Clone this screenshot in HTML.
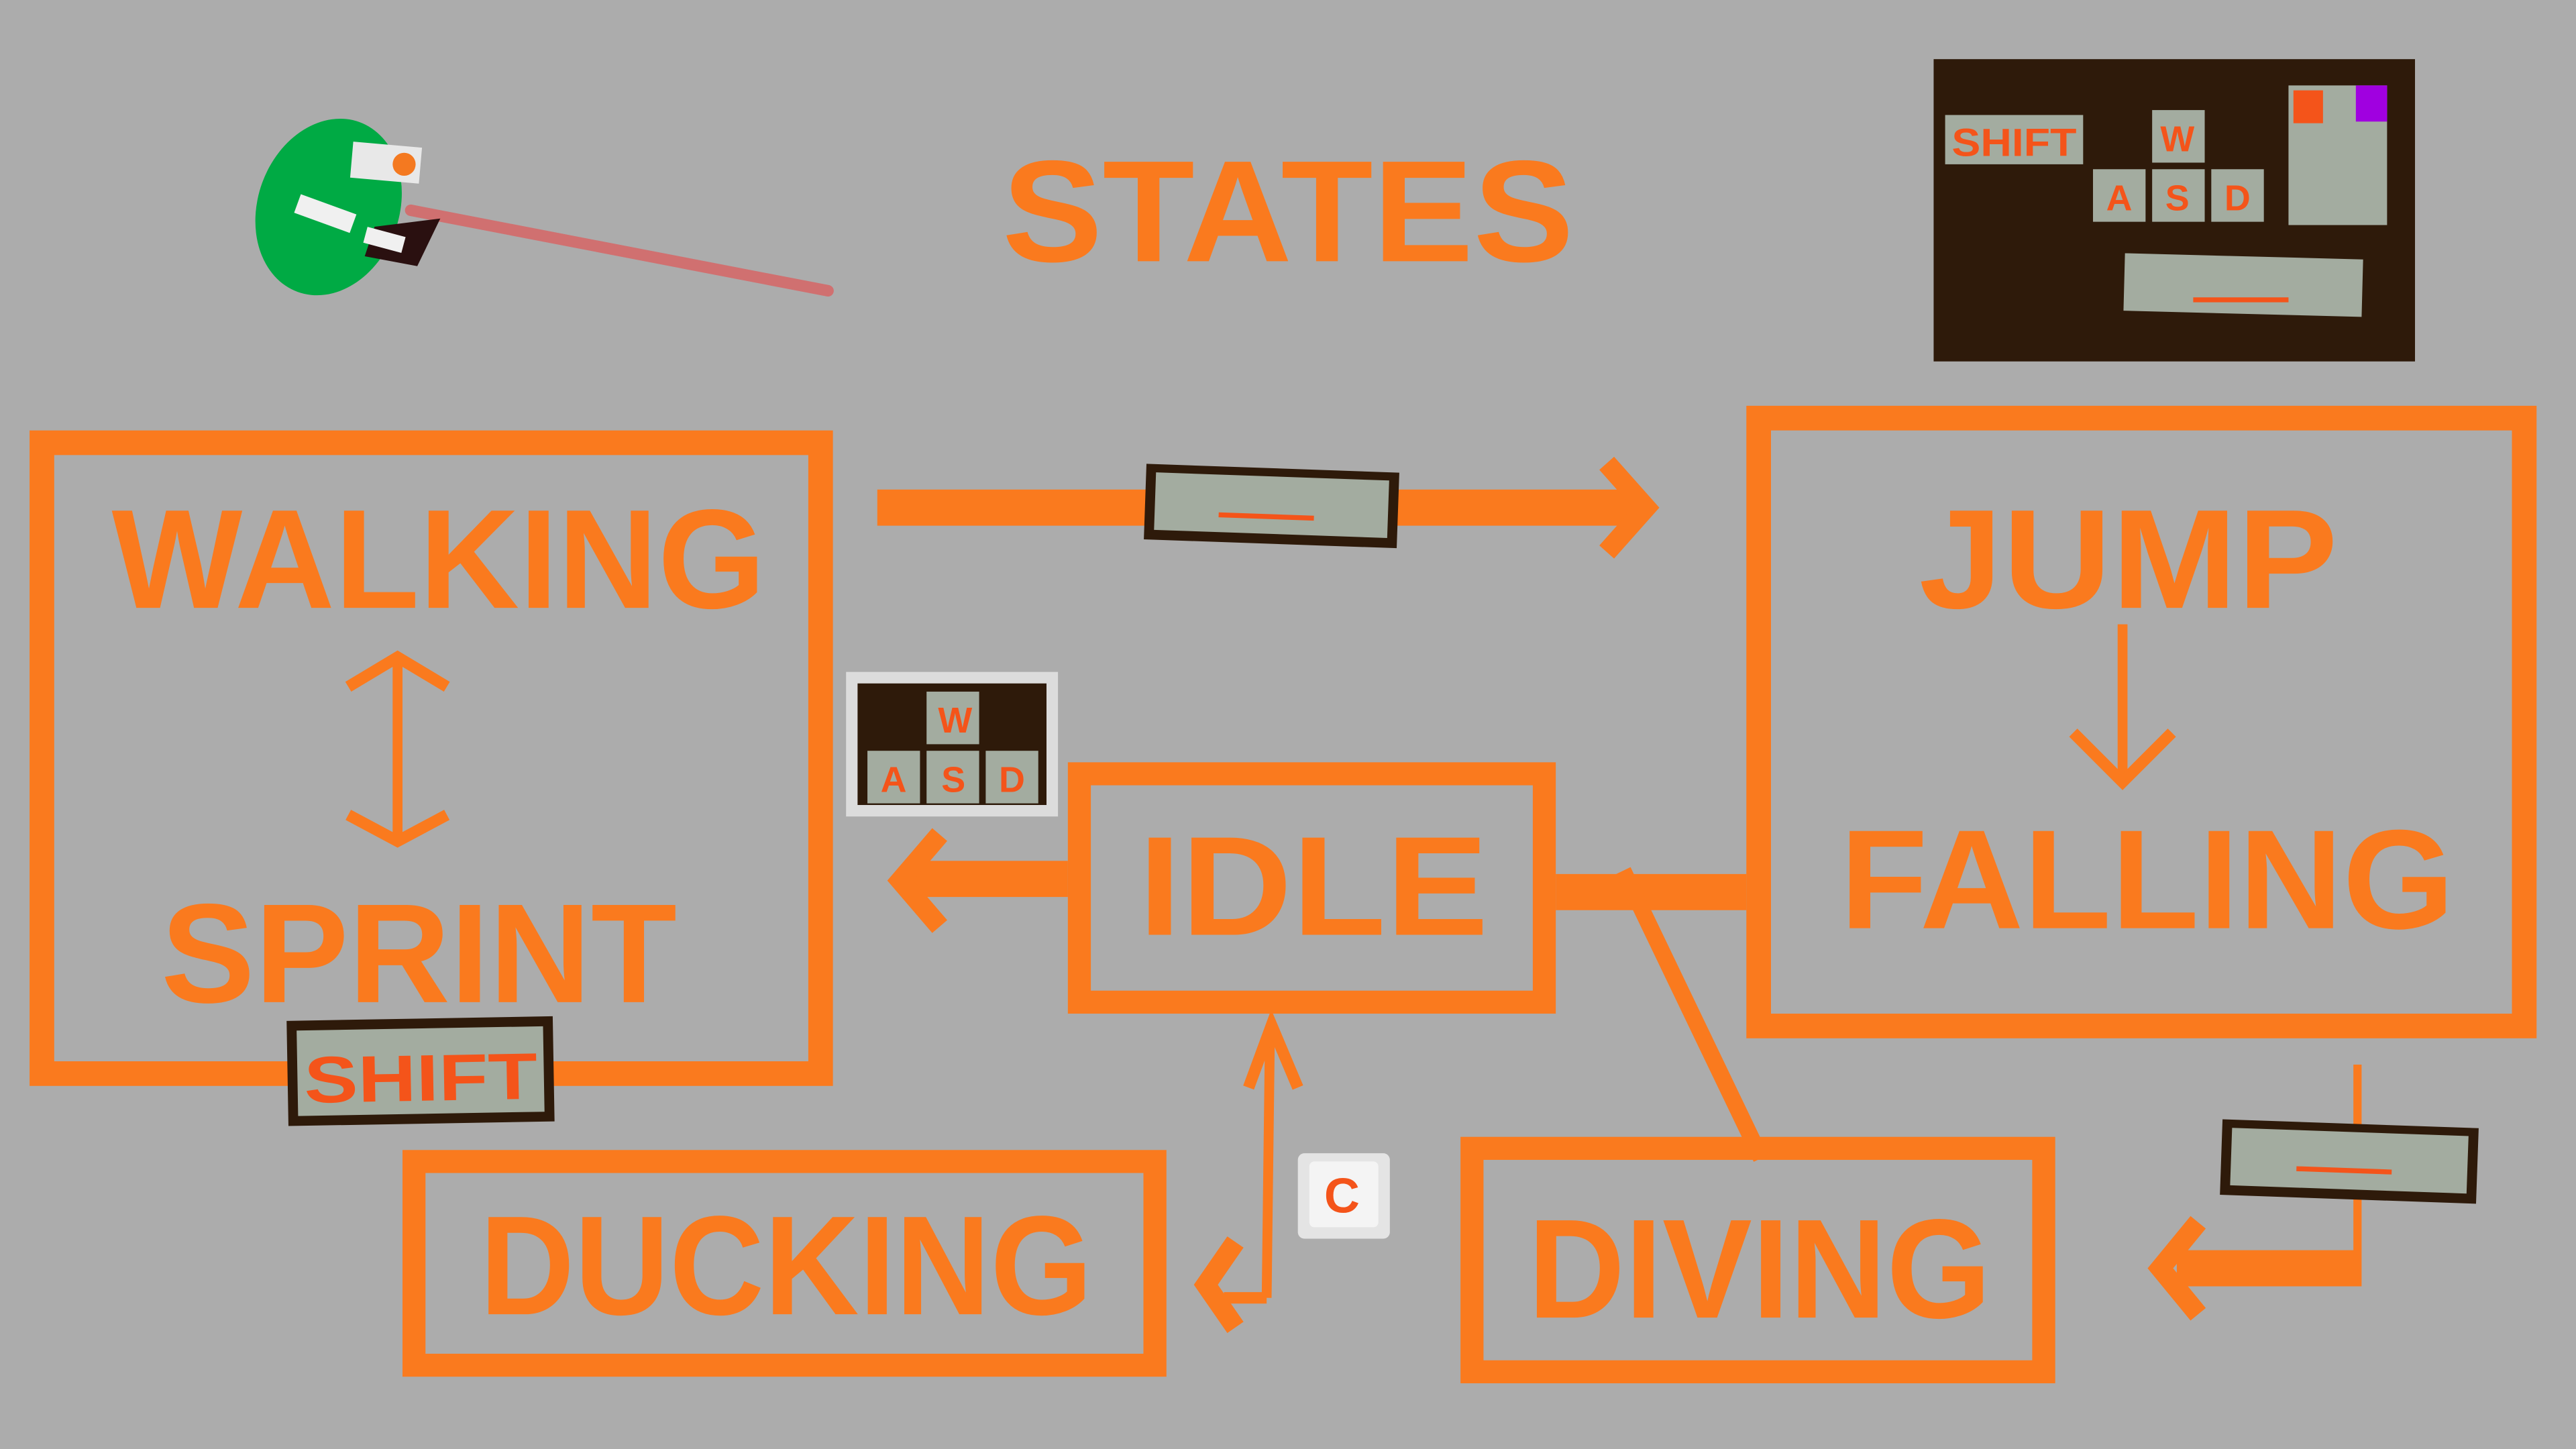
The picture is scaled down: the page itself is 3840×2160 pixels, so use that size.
<!DOCTYPE html>
<html><head><meta charset="utf-8"><style>
html,body{margin:0;padding:0;background:#acacac;}
svg{display:block}
text{font-family:"Liberation Sans",sans-serif;font-weight:bold;fill:#fa7a1e}
</style></head><body>
<svg width="3840" height="2160" viewBox="0 0 1568 882" xmlns="http://www.w3.org/2000/svg">
<rect width="1568" height="882" fill="#acacac"/>
<g fill="none" stroke="#fa7a1e" stroke-linejoin="miter">
<!-- boxes -->
<rect x="25.5" y="269.5" width="474" height="384" stroke-width="15"/>
<rect x="1070.5" y="254.5" width="466" height="370" stroke-width="15"/>
<rect x="657" y="471" width="283" height="139" stroke-width="14"/>
<rect x="252" y="707" width="451" height="124" stroke-width="14"/>
<rect x="896" y="699" width="348" height="136" stroke-width="14"/>
<!-- walking/sprint double arrow -->
<line x1="242" y1="402" x2="242" y2="510" stroke-width="6"/>
<polyline points="212,418 242,400 272,418" stroke-width="7"/>
<polyline points="212,496 242,512 272,496" stroke-width="7"/>
<!-- jump->falling -->
<line x1="1292" y1="380" x2="1292" y2="474" stroke-width="6"/>
<polyline points="1262,446 1292,476 1322,446" stroke-width="7"/>
<!-- top arrow -->
<line x1="534" y1="309" x2="1000" y2="309" stroke-width="22"/>
<polyline points="978,282 1002,309 978,336" stroke-width="12"/>
<!-- idle left arrow -->
<line x1="650" y1="535" x2="552" y2="535" stroke-width="22"/>
<polyline points="572,508 548,536 572,564" stroke-width="12"/>
<!-- idle to jump -->
<line x1="947" y1="543" x2="1063" y2="543" stroke-width="22"/>
<line x1="988" y1="530" x2="1072" y2="705" stroke-width="10"/>
<!-- idle <-> ducking -->
<line x1="773" y1="628" x2="771" y2="790" stroke-width="6"/>
<polyline points="760,662 774,624 790,662" stroke-width="7"/>
<polyline points="771,790 745,790" stroke-width="7"/>
<polyline points="752,756 734,782 752,808" stroke-width="12"/>
<!-- right bottom arrow -->
<line x1="1435" y1="648" x2="1435" y2="783" stroke-width="5"/>
<line x1="1435" y1="772" x2="1325" y2="772" stroke-width="22"/>
<polyline points="1338,744 1315,772 1338,800" stroke-width="12"/>
</g>
<!-- texts -->
<text x="610" y="159" font-size="88" textLength="348" lengthAdjust="spacingAndGlyphs">STATES</text>
<text x="68" y="370" font-size="86" textLength="398" lengthAdjust="spacingAndGlyphs">WALKING</text>
<text x="98" y="610" font-size="86" textLength="314" lengthAdjust="spacingAndGlyphs">SPRINT</text>
<text x="1168" y="370" font-size="86" textLength="255" lengthAdjust="spacingAndGlyphs">JUMP</text>
<text x="1120" y="565" font-size="86" textLength="374" lengthAdjust="spacingAndGlyphs">FALLING</text>
<text x="693" y="569" font-size="86" textLength="213" lengthAdjust="spacingAndGlyphs">IDLE</text>
<text x="292" y="800" font-size="86" textLength="373" lengthAdjust="spacingAndGlyphs">DUCKING</text>
<text x="930" y="802" font-size="86" textLength="282" lengthAdjust="spacingAndGlyphs">DIVING</text>
<!-- SHIFT badge -->
<g transform="rotate(-1 256 652)">
<rect x="175" y="620" width="162" height="64" fill="#2e1a0a"/>
<rect x="181" y="626" width="150" height="52" fill="#a3aca0"/>
<text x="185" y="670" font-size="40" textLength="142" lengthAdjust="spacingAndGlyphs" style="fill:#f4541a">SHIFT</text>
</g>
<!-- top key badge -->
<g transform="rotate(2 774 308)">
<rect x="697" y="285" width="154" height="46" fill="#2e1a0a"/>
<rect x="703" y="290" width="142" height="35" fill="#a3aca0"/>
<rect x="742" y="313" width="58" height="3" fill="#f4541a"/>
</g>
<!-- bottom right badge -->
<g transform="rotate(2 1430 707)">
<rect x="1352" y="684" width="156" height="46" fill="#2e1a0a"/>
<rect x="1358" y="689" width="144" height="35" fill="#a3aca0"/>
<rect x="1398" y="711" width="58" height="3" fill="#f4541a"/>
</g>
<!-- WASD small -->
<rect x="515" y="409" width="129" height="88" fill="#dcdcdc"/>
<rect x="522" y="416" width="115" height="74" fill="#2e1a0a"/>
<g fill="#a3aca0">
<rect x="564" y="421" width="32" height="32"/>
<rect x="528" y="457" width="32" height="32"/>
<rect x="564" y="457" width="32" height="32"/>
<rect x="600" y="457" width="32" height="32"/>
</g>
<g font-size="22" style="font-size:22px">
<text x="571" y="446" style="fill:#f4541a">W</text>
<text x="536" y="482" style="fill:#f4541a">A</text>
<text x="573" y="482" style="fill:#f4541a">S</text>
<text x="608" y="482" style="fill:#f4541a">D</text>
</g>
<!-- C key -->
<rect x="790" y="702" width="56" height="52" rx="4" fill="#e4e4e4"/>
<rect x="797" y="707" width="42" height="40" rx="3" fill="#f4f4f4"/>
<text x="806" y="738" font-size="30" style="fill:#f4541a">C</text>
<!-- top-right panel -->
<rect x="1177" y="36" width="293" height="184" fill="#2e1a0a"/>
<g fill="#a3aca0">
<rect x="1184" y="70" width="84" height="30"/>
<rect x="1310" y="67" width="32" height="32"/>
<rect x="1274" y="103" width="32" height="32"/>
<rect x="1310" y="103" width="32" height="32"/>
<rect x="1346" y="103" width="32" height="32"/>
<rect x="1393" y="52" width="60" height="85"/>
<rect x="1293" y="156" width="145" height="35" transform="rotate(1.5 1365 173)"/>
</g>
<rect x="1396" y="55" width="18" height="20" fill="#f4541a"/>
<rect x="1434" y="52" width="19" height="22" fill="#a000e0"/>
<rect x="1335" y="181" width="58" height="3" fill="#f4541a"/>
<text x="1188" y="95" font-size="24" textLength="76" lengthAdjust="spacingAndGlyphs" style="fill:#f4541a">SHIFT</text>
<text x="1315" y="92" font-size="22" style="fill:#f4541a">W</text>
<text x="1282" y="128" font-size="22" style="fill:#f4541a">A</text>
<text x="1318" y="128" font-size="22" style="fill:#f4541a">S</text>
<text x="1354" y="128" font-size="22" style="fill:#f4541a">D</text>
<!-- character -->
<line x1="250" y1="128" x2="504" y2="177" stroke="#d07070" stroke-width="7" stroke-linecap="round"/>
<ellipse cx="200" cy="126" rx="43" ry="55" fill="#00aa44" transform="rotate(20 200 126)"/>
<polygon points="228,138 268,133 254,162 222,156" fill="#2a1010"/>
<rect x="214" y="88" width="42" height="22" fill="#e8e8e8" transform="rotate(5 235 99)"/>
<circle cx="246" cy="100" r="7" fill="#f47920"/>
<rect x="180" y="124" width="36" height="12" fill="#f0f0f0" transform="rotate(20 198 130)"/>
<rect x="222" y="141" width="24" height="10" fill="#f0f0f0" transform="rotate(15 234 146)"/>
</svg>
</body></html>
